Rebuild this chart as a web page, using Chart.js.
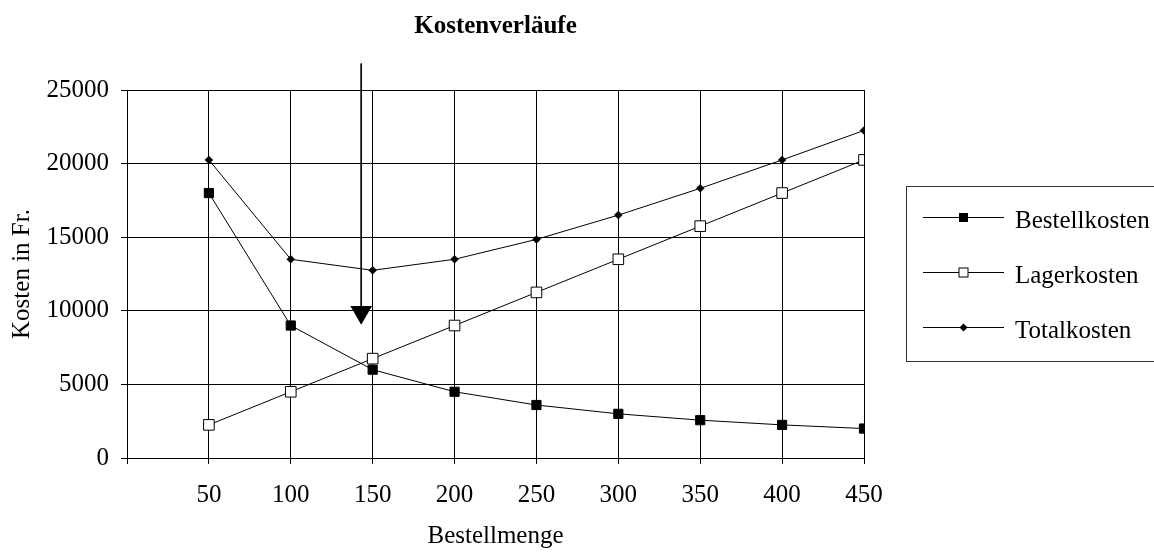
<!DOCTYPE html>
<html>
<head>
<meta charset="utf-8">
<script src="https://cdn.jsdelivr.net/npm/chart.js@4/dist/chart.umd.min.js"></script>
<style>
  html, body { margin: 0; padding: 0; background: #fff; }
  #wrap { width: 1154px; height: 552px; }
</style>
</head>
<body>
<div id="wrap"><canvas id="myChart"></canvas></div>
<script>
// Bestellmenge (order quantity) on the x axis
const quantities = [50, 100, 150, 200, 250, 300, 350, 400, 450];
const bestellkosten = [18000, 9000, 6000, 4500, 3600, 3000, 2570, 2250, 2000];
const lagerkosten = [2250, 4500, 6750, 9000, 11250, 13500, 15750, 18000, 20250];
const totalkosten = [20250, 13500, 12750, 13500, 14850, 16500, 18320, 20250, 22250];
const seriesNames = ['Bestellkosten', 'Lagerkosten', 'Totalkosten'];

// arrow marking the optimum order quantity
const arrowQuantity = 143;
const arrowFrom = 26800;
const arrowTo = 9900;

const fontFamily = '"Liberation Serif", "Times New Roman", serif';

function toPoints(values) {
    return quantities.map((q, i) => ({x: q, y: values[i]}));
}

// legend drawn as a framed box on the right, like the original
const boxLegend = {
    id: 'boxLegend',
    afterDraw(chart) {
        const ctx = chart.ctx;
        ctx.save();
        ctx.strokeStyle = '#333';
        ctx.lineWidth = 1;
        ctx.strokeRect(906.5, 186.5, 260, 175);

        const rows = [217, 272, 327];
        ctx.font = '25px ' + fontFamily;
        ctx.textBaseline = 'alphabetic';
        ctx.textAlign = 'left';
        seriesNames.forEach((name, i) => {
            const y = rows[i] + 0.5;
            ctx.strokeStyle = '#000';
            ctx.beginPath();
            ctx.moveTo(923, y);
            ctx.lineTo(1004, y);
            ctx.stroke();
            const cx = 963.5;
            if (i === 0) {
                ctx.fillStyle = '#000';
                ctx.fillRect(cx - 4.5, y - 4.5, 9, 9);
            } else if (i === 1) {
                ctx.fillStyle = '#fff';
                ctx.fillRect(cx - 4.5, y - 4.5, 9, 9);
                ctx.strokeRect(cx - 4.5, y - 4.5, 9, 9);
            } else {
                ctx.fillStyle = '#000';
                ctx.beginPath();
                ctx.moveTo(cx - 4, y);
                ctx.lineTo(cx, y - 4);
                ctx.lineTo(cx + 4, y);
                ctx.lineTo(cx, y + 4);
                ctx.closePath();
                ctx.fill();
            }
            ctx.fillStyle = '#000';
            ctx.fillText(name, 1015, rows[i] + 11);
        });
        ctx.restore();
    }
};

const ctx = document.getElementById('myChart');
const myChart = new Chart(ctx, {
    type: 'line',
    data: {
        datasets: [
            {
                label: seriesNames[0],
                data: toPoints(bestellkosten),
                borderColor: '#000',
                borderWidth: 1,
                pointStyle: 'rect',
                pointRadius: 6.5,
                pointBackgroundColor: '#000',
                pointBorderColor: '#000',
                pointBorderWidth: 1
            },
            {
                label: seriesNames[1],
                data: toPoints(lagerkosten),
                borderColor: '#000',
                borderWidth: 1,
                pointStyle: 'rect',
                pointRadius: 7.5,
                pointBackgroundColor: '#fff',
                pointBorderColor: '#000',
                pointBorderWidth: 1
            },
            {
                label: seriesNames[2],
                data: toPoints(totalkosten),
                borderColor: '#000',
                borderWidth: 1,
                pointStyle: 'rectRot',
                pointRadius: 4,
                pointBackgroundColor: '#000',
                pointBorderColor: '#000',
                pointBorderWidth: 0.5
            },
            {
                label: 'Optimum',
                data: [{x: arrowQuantity, y: arrowFrom}, {x: arrowQuantity, y: arrowTo}],
                borderColor: '#000',
                borderWidth: 1,
                clip: false,
                pointStyle: 'triangle',
                pointRotation: 180,
                pointRadius: [0, 12.5],
                pointBackgroundColor: '#000',
                pointBorderColor: '#000',
                pointBorderWidth: 0
            }
        ]
    },
    options: {
        responsive: true,
        maintainAspectRatio: false,
        animation: false,
        layout: {
            padding: {left: 0, right: 290, top: 0, bottom: 0}
        },
        plugins: {
            legend: {display: false},
            tooltip: {enabled: false},
            title: {
                display: true,
                text: 'Kostenverläufe',
                fullSize: false,
                color: '#000',
                font: {family: fontFamily, size: 25, weight: 'bold'},
                padding: {top: 12, bottom: 48}
            }
        },
        scales: {
            x: {
                type: 'linear',
                min: 0,
                max: 450,
                afterFit: scale => { scale.height = 94; },
                ticks: {
                    stepSize: 50,
                    autoSkip: false,
                    maxRotation: 0,
                    padding: 16,
                    color: '#000',
                    font: {family: fontFamily, size: 25},
                    callback: value => value === 0 ? '' : String(value)
                },
                grid: {color: '#000', lineWidth: 1, tickLength: 6, tickColor: '#000'},
                border: {color: '#000', width: 1},
                title: {
                    display: true,
                    text: 'Bestellmenge',
                    color: '#000',
                    font: {family: fontFamily, size: 25},
                    padding: {top: 0, bottom: 1}
                }
            },
            y: {
                min: 0,
                max: 25000,
                afterFit: scale => { scale.width = 127; },
                ticks: {
                    stepSize: 5000,
                    padding: 12,
                    color: '#000',
                    font: {family: fontFamily, size: 25},
                    callback: value => String(value)
                },
                grid: {color: '#000', lineWidth: 1, tickLength: 6, tickColor: '#000'},
                border: {color: '#000', width: 1},
                title: {
                    display: true,
                    text: 'Kosten in Fr.',
                    color: '#000',
                    font: {family: fontFamily, size: 25},
                    padding: {top: 7, bottom: 0}
                }
            }
        }
    },
    plugins: [boxLegend]
});
</script>
</body>
</html>
